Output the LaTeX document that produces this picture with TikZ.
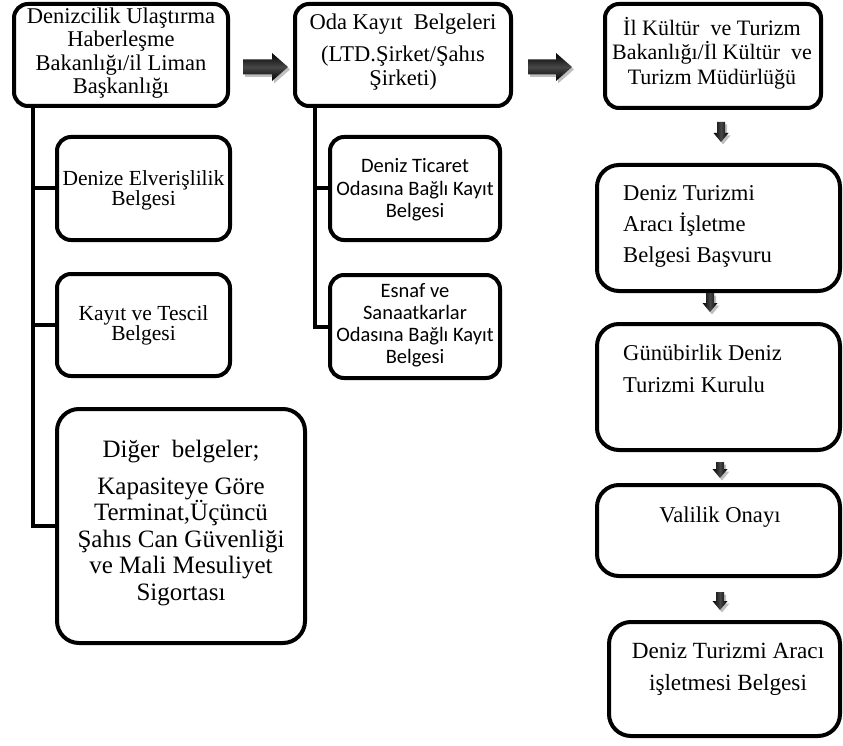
\documentclass[tikz,border=0pt]{standalone}
\usepackage{fontspec}
\setmainfont{Liberation Serif}
\newfontfamily\calib{Carlito}
\usetikzlibrary{calc}
\newcommand\blockh[2]{% #1 start coordinate (left, centre line), #2 shaft length
  \fill[black,opacity=0.25] ([shift={(2,2.5)}]#1) ++(0,-7.5) -- ++(#2,0) -- ++(0,-6.5)
    -- ++(16,14) -- ++(-16,14) -- ++(0,-6.5) -- ++(-#2,0) -- cycle;
  \shade[top color=black, bottom color=black, middle color=black!72]
    (#1) ++(0,-7.5) -- ++(#2,0) -- ++(0,-6.5)
    -- ++(16,14) -- ++(-16,14) -- ++(0,-6.5) -- ++(-#2,0) -- cycle;
}
\newcommand\blockv[2]{% #1 start coordinate (top, centre line), #2 shaft length
  \fill[black,opacity=0.25] ([shift={(2,2.5)}]#1) ++(-4,0) -- ++(0,#2) -- ++(-3.5,0)
    -- ++(7.5,9) -- ++(7.5,-9) -- ++(-3.5,0) -- ++(0,-#2) -- cycle;
  \shade[left color=black, right color=black, middle color=black!72]
    (#1) ++(-4,0) -- ++(0,#2) -- ++(-3.5,0)
    -- ++(7.5,9) -- ++(7.5,-9) -- ++(-3.5,0) -- ++(0,-#2) -- cycle;
}
\begin{document}
\begin{tikzpicture}[x=1pt,y=-1pt,
  box/.style={draw, line width=4pt, rounded corners=14pt, fill=white, inner sep=0pt},
  bigbox/.style={box, rounded corners=22pt},
  txt/.style={align=center, inner sep=0pt},
  trunk/.style={line width=4pt},
]
\useasboundingbox (0,0) rectangle (843,746);
\fill[white] (0,0) rectangle (843,746);

% boxes
\node[box, minimum width=214pt, minimum height=102pt] (b1) at (121,55) {};
\node[box, minimum width=216pt, minimum height=102pt] (b2) at (403,55) {};
\node[box, minimum width=216pt, minimum height=104pt] (b3) at (713,56) {};
\node[box, minimum width=173pt, minimum height=103pt] (c1) at (143.5,188.5) {};
\node[box, minimum width=173pt, minimum height=102pt] (c2) at (143.5,325) {};
\node[bigbox, minimum width=248pt, minimum height=234pt] (c3) at (181,526) {};
\node[box, minimum width=170pt, minimum height=103pt] (d1) at (415,188.5) {};
\node[box, minimum width=170pt, minimum height=103pt] (d2) at (415,326.5) {};
\node[bigbox, minimum width=243pt, minimum height=126pt] (e1) at (718.5,228) {};
\node[bigbox, minimum width=243pt, minimum height=126pt] (e2) at (718.5,387) {};
\node[bigbox, minimum width=243pt, minimum height=91pt] (e3) at (718.5,530.5) {};
\node[bigbox, minimum width=231pt, minimum height=114pt] (e4) at (724.5,679) {};

% trunks
\draw[trunk] ([xshift=21pt]b1.south west) |- (c1.west);
\draw[trunk] ([xshift=21pt]b1.south west) |- (c2.west);
\draw[trunk] ([xshift=21pt]b1.south west) |- (c3.west);
\draw[trunk] ([xshift=22pt]b2.south west) |- (d1.west);
\draw[trunk] ([xshift=22pt]b2.south west) |- (d2.west);

% texts
\node[txt, font=\fontsize{22.5}{23.3}\selectfont] (b1t) at (121,53)
  {Denizcilik Ulaştırma\\Haberleşme\\Bakanlığı/il Liman\\Başkanlığı};
\node[txt, font=\fontsize{22.5}{23.3}\selectfont] (b2t) at (403,52)
  {Oda Kayıt~ Belgeleri\\[9pt](LTD.Şirket/Şahıs\\Şirketi)};
\node[txt, font=\fontsize{22}{24.5}\selectfont] (b3t) at (712,53)
  {İl Kültür~ ve Turizm\\Bakanlığı/İl Kültür~ ve\\Turizm Müdürlüğü};
\node[txt, font=\fontsize{21.5}{20}\selectfont] (c1t) at (143.5,190)
  {Denize Elverişlilik\\Belgesi};
\node[txt, font=\fontsize{21.5}{20}\selectfont] (c2t) at (143.5,325)
  {Kayıt ve Tescil\\Belgesi};
\node[txt, font=\fontsize{25}{26.5}\selectfont] (c3t) at (181,523)
  {Diğer~ belgeler;\\[10pt]Kapasiteye Göre\\Terminat,Üçüncü\\Şahıs Can Güvenliği\\ve Mali Mesuliyet\\Sigortası};
\node[txt, font=\calib\fontsize{20.5}{22.5}\selectfont] (d1t) at (415,190)
  {Deniz Ticaret\\Odasına Bağlı Kayıt\\Belgesi};
\node[txt, font=\calib\fontsize{20.5}{22}\selectfont] (d2t) at (415,325.5)
  {Esnaf ve\\Sanaatkarlar\\Odasına Bağlı Kayıt\\Belgesi};
\node[txt, align=left, anchor=west, font=\fontsize{22.6}{31}\selectfont] (e1t) at (623,226)
  {Deniz Turizmi\\Aracı İşletme\\Belgesi Başvuru};
\node[txt, align=left, anchor=west, font=\fontsize{22.6}{32}\selectfont] (e2t) at (623,369)
  {Günübirlik Deniz\\Turizmi Kurulu};
\node[txt, font=\fontsize{22.6}{26}\selectfont] (e3t) at (720,517) {Valilik Onayı};
\node[txt, font=\fontsize{23.2}{32}\selectfont] (e4t) at (728,669)
  {Deniz Turizmi Aracı\\işletmesi Belgesi};

% block arrows
\coordinate (a1) at (243,67);
\coordinate (a2) at (528,67);
\coordinate (v1) at (721,122);
\coordinate (v2) at (710,293);
\coordinate (v3) at (720,462);
\coordinate (v4) at (720,592);
\blockh{a1}{29}
\blockh{a2}{28}
\blockv{v1}{11}
\blockv{v2}{10}
\blockv{v3}{7}
\blockv{v4}{9}
\end{tikzpicture}
\end{document}
